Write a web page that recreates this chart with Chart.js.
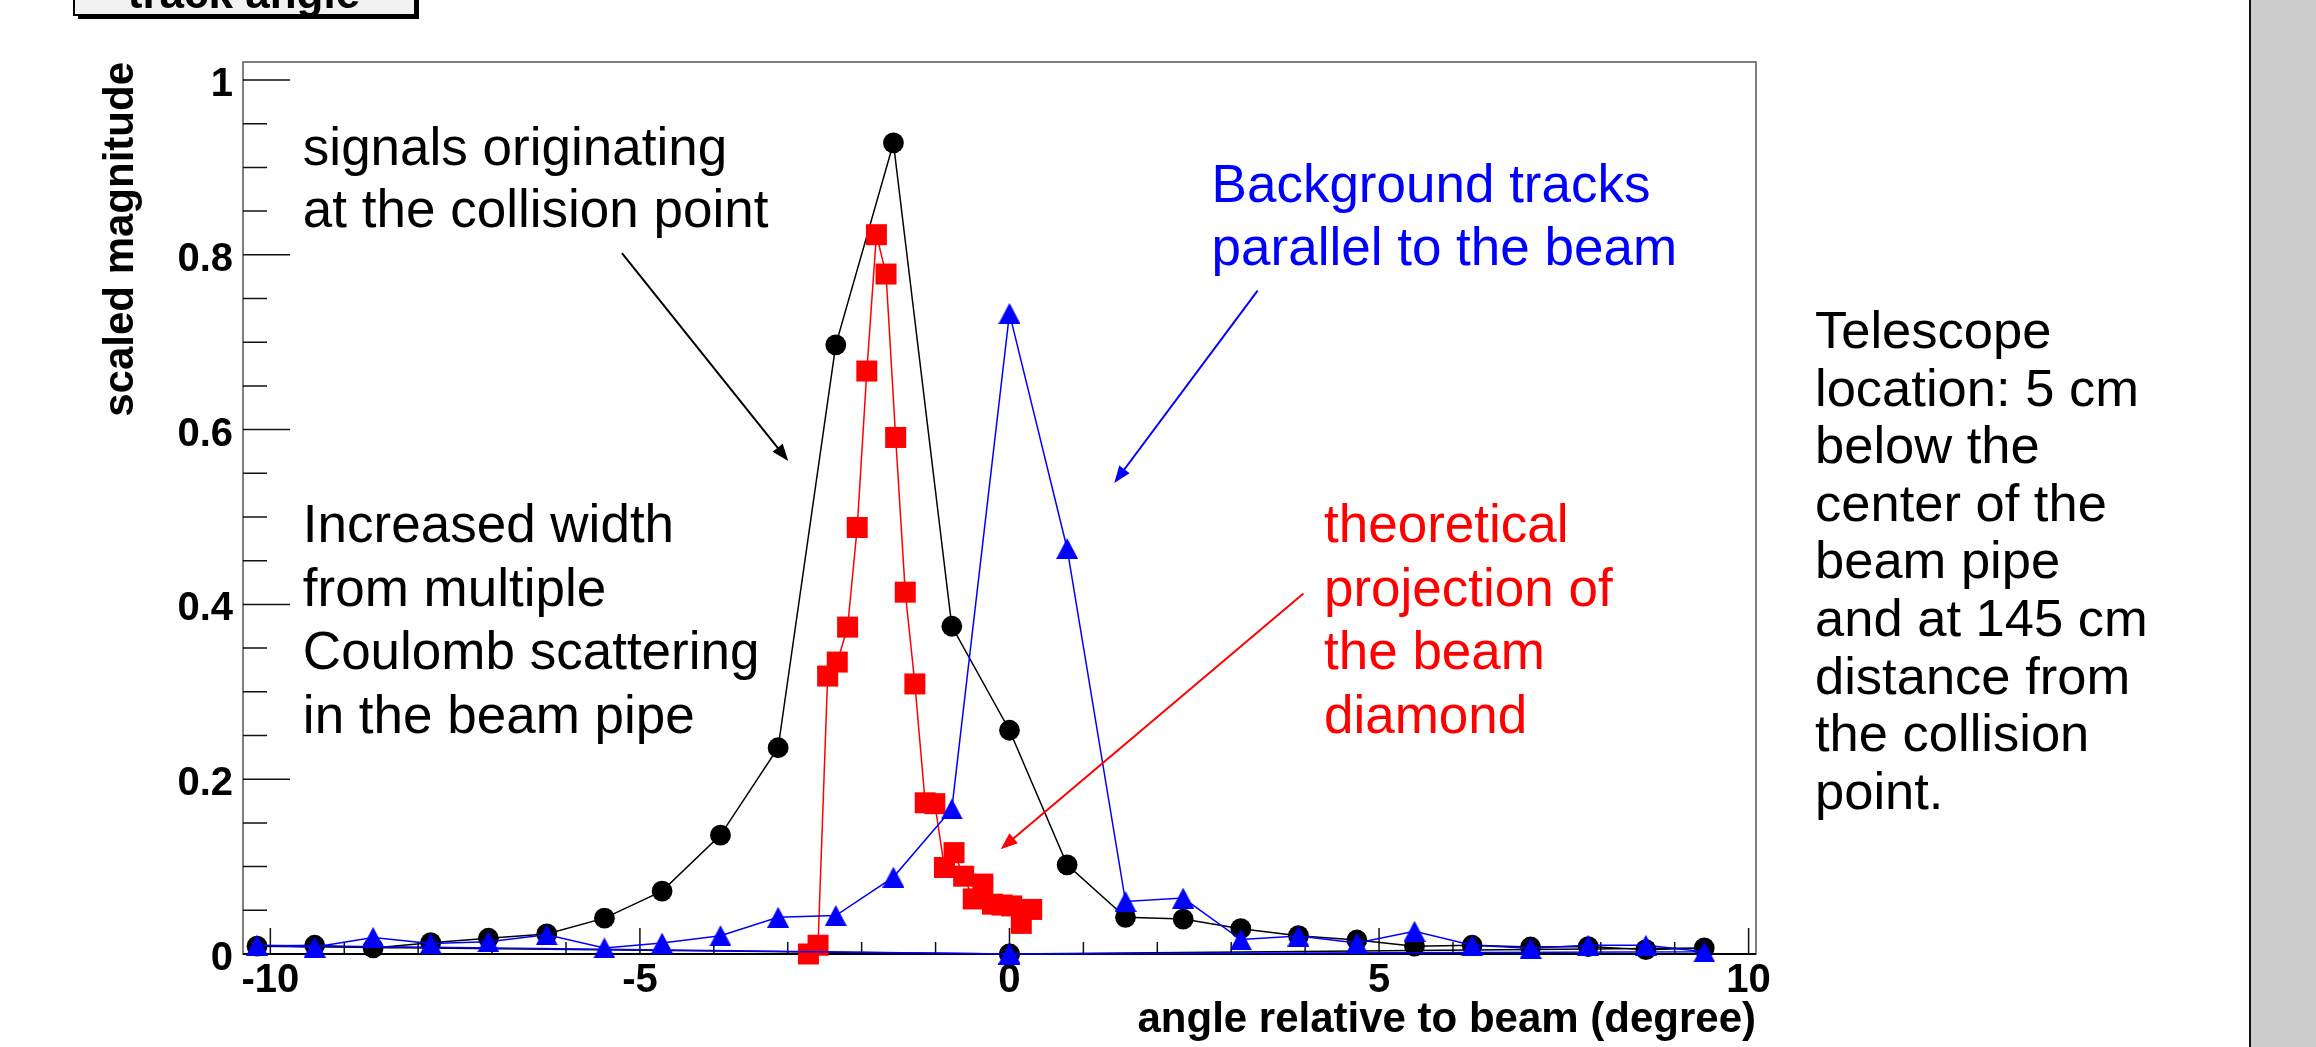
<!DOCTYPE html>
<html>
<head>
<meta charset="utf-8">
<title>track angle</title>
<script src="https://cdn.jsdelivr.net/npm/chart.js@4.4.1/dist/chart.umd.min.js"></script>
<style>
  html, body { margin: 0; padding: 0; background: #fff; overflow: hidden; }
  canvas { display: block; }
</style>
</head>
<body>
<canvas id="chart" width="2316" height="1047"></canvas>
<script>
// angle bins (degree) shared by the two measured graphs
const angles = [-10.18, -9.40, -8.61, -7.83, -7.05, -6.26, -5.48, -4.70, -3.91, -3.13, -2.35, -1.57, -0.78,
  0.00, 0.78, 1.57, 2.35, 3.13, 3.91, 4.70, 5.48, 6.26, 7.05, 7.83, 8.61, 9.40];
const collision = [0.009, 0.010, 0.007, 0.013, 0.018, 0.023, 0.041, 0.072, 0.136, 0.236, 0.697, 0.928, 0.375,
  0.256, 0.102, 0.042, 0.040, 0.029, 0.021, 0.016, 0.009, 0.010, 0.008, 0.0085, 0.005, 0.007];
const background = [0.010, 0.008, 0.019, 0.012, 0.014, 0.022, 0.007, 0.0125, 0.021, 0.042, 0.044, 0.088, 0.166,
  0.733, 0.464, 0.060, 0.064, 0.0165, 0.0205, 0.0125, 0.026, 0.010, 0.0065, 0.010, 0.010, 0.0025];

// theoretical projection of the beam diamond
const diamondAngles = [-2.72, -2.59, -2.46, -2.33, -2.19, -2.06, -1.93, -1.80, -1.67, -1.54, -1.41, -1.28,
  -1.14, -1.01, -0.88, -0.75, -0.62, -0.49, -0.36, -0.23, -0.10, 0.03, 0.16, 0.30];
const diamond = [0.000, 0.010, 0.318, 0.334, 0.374, 0.488, 0.667, 0.823, 0.778, 0.591, 0.414, 0.309,
  0.173, 0.172, 0.099, 0.116, 0.089, 0.063, 0.080, 0.057, 0.056, 0.055, 0.035, 0.051];

// the measured graphs also hold an unset (0,0) point at both ends
const unsetPoint = [0, 0];

const xTickValues = [-10, -5, 0, 5, 10];
const xTickLabels = ['-10', '-5', '0', '5', '10'];
const yTickValues = [0, 0.2, 0.4, 0.6, 0.8, 1];
const yTickLabels = ['0', '0.2', '0.4', '0.6', '0.8', '1'];

const sideNote = ['Telescope', 'location: 5 cm', 'below the', 'center of the', 'beam pipe',
  'and at 145 cm', 'distance from', 'the collision', 'point.'];

const FONT = '"Liberation Sans", Arial, Helvetica, sans-serif';

// text boxes and arrows inside the frame, anchored in axis units
const notes = [
  { lines: ['signals originating', 'at the collision point'], color: '#000000', x: -9.56, y: 0.9027, step: 62 },
  { lines: ['Increased width', 'from multiple', 'Coulomb scattering', 'in the beam pipe'], color: '#000000', x: -9.56, y: 0.4714, step: 63.7 },
  { lines: ['Background tracks', 'parallel to the beam'], color: '#0000ff', x: 2.734, y: 0.8608, step: 63.3 },
  { lines: ['theoretical', 'projection of', 'the beam', 'diamond'], color: '#ff0000', x: 4.255, y: 0.4714, step: 63.7 },
];
const arrows = [
  { color: '#000000', from: [-5.243, 0.802], to: [-2.993, 0.564] },
  { color: '#0000ff', from: [3.357, 0.759], to: [1.418, 0.539] },
  { color: '#ff0000', from: [3.977, 0.4125], to: [-0.119, 0.1198] },
];

function toPoints(xs, ys, withUnset) {
  const pts = xs.map((x, i) => ({ x: x, y: ys[i] }));
  if (withUnset) {
    const p = { x: unsetPoint[0], y: unsetPoint[1] };
    return [p].concat(pts, [{ ...p }]);
  }
  return pts;
}

function triangleMarker(w, h, color) {
  const c = document.createElement('canvas');
  c.width = w;
  c.height = h;
  const g = c.getContext('2d');
  g.fillStyle = color;
  g.beginPath();
  g.moveTo(w / 2, 0);
  g.lineTo(w, h);
  g.lineTo(0, h);
  g.closePath();
  g.fill();
  return c;
}

function drawArrow(ctx, x1, y1, x2, y2, color) {
  const ang = Math.atan2(y2 - y1, x2 - x1);
  const len = 17, half = 6.5;
  ctx.strokeStyle = color;
  ctx.fillStyle = color;
  ctx.lineWidth = 2;
  ctx.beginPath();
  ctx.moveTo(x1, y1);
  ctx.lineTo(x2 - Math.cos(ang) * len * 0.8, y2 - Math.sin(ang) * len * 0.8);
  ctx.stroke();
  ctx.beginPath();
  ctx.moveTo(x2, y2);
  ctx.lineTo(x2 - Math.cos(ang) * len + Math.sin(ang) * half, y2 - Math.sin(ang) * len - Math.cos(ang) * half);
  ctx.lineTo(x2 - Math.cos(ang) * len - Math.sin(ang) * half, y2 - Math.sin(ang) * len + Math.cos(ang) * half);
  ctx.closePath();
  ctx.fill();
}

const decorations = {
  id: 'decorations',
  beforeDraw(chart) {
    const { ctx, width, height } = chart;
    ctx.save();
    ctx.fillStyle = '#ffffff';
    ctx.fillRect(0, 0, width, height);

    // grey side panel
    ctx.fillStyle = '#cccccc';
    ctx.fillRect(2251, 0, width - 2251, height);
    ctx.fillStyle = '#111111';
    ctx.fillRect(2249, 0, 2, height);

    // title box, cut by the top edge
    ctx.fillStyle = '#000000';
    ctx.fillRect(78, -5, 341, 24);
    ctx.fillStyle = '#f2f2f2';
    ctx.fillRect(74, -5, 341, 20);
    ctx.strokeStyle = '#000000';
    ctx.lineWidth = 2;
    ctx.strokeRect(74, -5, 341, 20);
    ctx.fillStyle = '#000000';
    ctx.font = 'bold 44px ' + FONT;
    ctx.textAlign = 'center';
    ctx.textBaseline = 'alphabetic';
    ctx.fillText('track angle', 244, 8);
    ctx.restore();
  },
  beforeDatasetsDraw(chart) {
    const { ctx } = chart;
    const { left, right, top, bottom } = chart.chartArea;
    const xs = chart.scales.x, ys = chart.scales.y;
    ctx.save();
    ctx.strokeStyle = '#555555';
    ctx.lineWidth = 1.5;
    ctx.strokeRect(left, top, right - left, bottom - top);

    ctx.strokeStyle = '#111111';
    ctx.lineWidth = 1.5;
    ctx.beginPath();
    yTickValues.forEach(v => {
      const p = ys.getPixelForValue(v);
      ctx.moveTo(left, p); ctx.lineTo(left + 47, p);
    });
    for (let k = 1; k * 0.05 <= ys.max; k++) {
      if (k % 4 === 0) continue;
      const p = ys.getPixelForValue(k * 0.05);
      ctx.moveTo(left, p); ctx.lineTo(left + 24, p);
    }
    xTickValues.forEach(v => {
      const p = xs.getPixelForValue(v);
      ctx.moveTo(p, bottom); ctx.lineTo(p, bottom - 26);
    });
    for (let k = -10; k <= 10; k++) {
      if (k % 5 === 0) continue;
      const p = xs.getPixelForValue(k);
      ctx.moveTo(p, bottom); ctx.lineTo(p, bottom - 12);
    }
    ctx.stroke();

    ctx.strokeStyle = '#000000';
    ctx.lineWidth = 2;
    ctx.beginPath();
    ctx.moveTo(left, bottom); ctx.lineTo(right, bottom);
    ctx.stroke();
    ctx.restore();
  },
  afterDatasetsDraw(chart) {
    const { ctx } = chart;
    const xs = chart.scales.x, ys = chart.scales.y;
    ctx.save();
    ctx.font = '53px ' + FONT;
    ctx.textAlign = 'left';
    ctx.textBaseline = 'alphabetic';
    notes.forEach(n => {
      ctx.fillStyle = n.color;
      const x = xs.getPixelForValue(n.x);
      const y = ys.getPixelForValue(n.y);
      n.lines.forEach((line, i) => ctx.fillText(line, x, y + i * n.step));
    });
    arrows.forEach(a => {
      drawArrow(ctx, xs.getPixelForValue(a.from[0]), ys.getPixelForValue(a.from[1]),
        xs.getPixelForValue(a.to[0]), ys.getPixelForValue(a.to[1]), a.color);
    });

    ctx.fillStyle = '#000000';
    ctx.font = '52.5px ' + FONT;
    sideNote.forEach((line, i) => ctx.fillText(line, 1815, 348 + i * 57.6));
    ctx.restore();
  }
};

const tickFont = { family: FONT, size: 40, weight: 'bold', lineHeight: 1.2 };
const titleFont = { family: FONT, size: 42, weight: 'bold', lineHeight: 1.2 };

new Chart(document.getElementById('chart'), {
  type: 'scatter',
  data: {
    datasets: [
      {
        label: 'Background tracks',
        data: toPoints(angles, background, true),
        showLine: true,
        borderColor: '#0000ff',
        borderWidth: 1.5,
        pointStyle: triangleMarker(22, 21, '#0000ff'),
        pointRadius: 10,
        pointBackgroundColor: '#0000ff',
        pointBorderWidth: 0,
        clip: false,
        order: 1
      },
      {
        label: 'theoretical projection',
        data: toPoints(diamondAngles, diamond, false),
        showLine: true,
        borderColor: '#ff0000',
        borderWidth: 1.5,
        pointStyle: 'rect',
        pointRadius: 14.85,
        pointBackgroundColor: '#ff0000',
        pointBorderWidth: 0,
        clip: false,
        order: 2
      },
      {
        label: 'collision point',
        data: toPoints(angles, collision, true),
        showLine: true,
        borderColor: '#000000',
        borderWidth: 1.5,
        pointStyle: 'circle',
        pointRadius: 10.4,
        pointBackgroundColor: '#000000',
        pointBorderWidth: 0,
        clip: false,
        order: 3
      }
    ]
  },
  options: {
    responsive: false,
    animation: false,
    devicePixelRatio: 1,
    events: [],
    layout: { padding: { left: 0, top: 62, right: 560, bottom: 0 } },
    elements: { line: { tension: 0 } },
    plugins: {
      legend: { display: false },
      tooltip: { enabled: false },
      title: { display: false }
    },
    scales: {
      x: {
        type: 'linear',
        min: -10.37,
        max: 10.1,
        grid: { display: false, drawTicks: false },
        border: { display: false },
        afterBuildTicks: s => { s.ticks = xTickValues.map(v => ({ value: v })); },
        afterFit: s => { s.height = 93; },
        ticks: {
          font: tickFont,
          color: '#000000',
          padding: 3,
          autoSkip: false,
          maxRotation: 0,
          includeBounds: false,
          callback: (v, i) => xTickLabels[i]
        },
        title: {
          display: true,
          text: 'angle relative to beam (degree)',
          align: 'end',
          color: '#000000',
          font: titleFont,
          padding: { top: 0, bottom: 1.3 }
        }
      },
      y: {
        type: 'linear',
        min: 0,
        max: 1.0206,
        grid: { display: false, drawTicks: false },
        border: { display: false },
        afterBuildTicks: s => { s.ticks = yTickValues.map(v => ({ value: v })); },
        afterFit: s => { s.width = 243; },
        ticks: {
          font: tickFont,
          color: '#000000',
          padding: 10,
          labelOffset: 5,
          includeBounds: false,
          callback: (v, i) => yTickLabels[i]
        },
        title: {
          display: true,
          text: 'scaled magnitude',
          align: 'end',
          color: '#000000',
          font: titleFont,
          padding: { top: 96, bottom: 0 }
        }
      }
    }
  },
  plugins: [decorations]
});
</script>
</body>
</html>
